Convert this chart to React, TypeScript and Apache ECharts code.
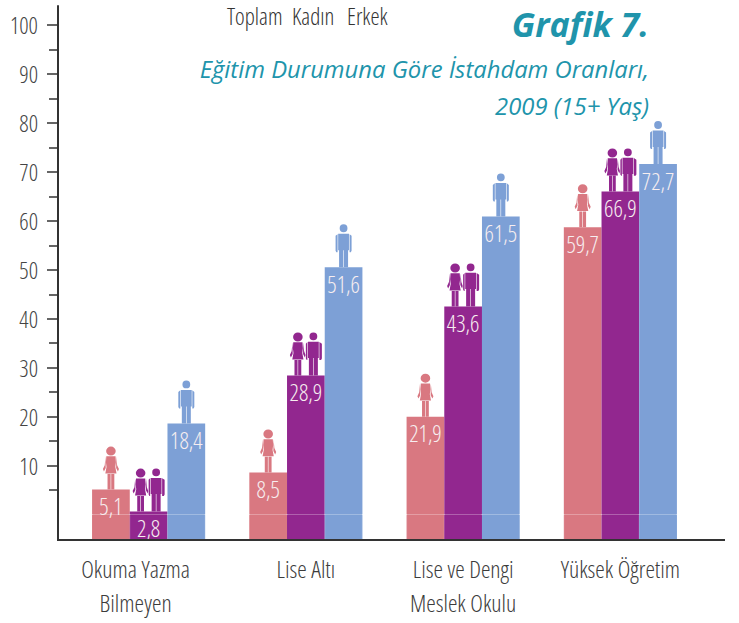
import React, { useEffect, useRef } from "react";
import * as echarts from "echarts";

const categories = ["Okuma Yazma\nBilmeyen", "Lise Altı", "Lise ve Dengi\nMeslek Okulu", "Yüksek Öğretim"];
// Bar heights as read against the axis
const kadinHeights = [5.1, 8.6, 20, 58.7];
const toplamHeights = [0.6, 28.4, 42.5, 66];
const erkekHeights = [18.6, 50.5, 60.9, 71.6];
// Values as printed on the bars
const kadinLabels = ["5,1", "8,5", "21,9", "59,7"];
const toplamLabels = ["2,8", "28,9", "43,6", "66,9"];
const erkekLabels = ["18,4", "51,6", "61,5", "72,7"];
const majorTicks = [10, 20, 30, 40, 50, 60, 70, 80, 90, 100];
const minorTicks = [5, 15, 25, 35, 45, 55, 65, 75, 85, 95];

const PINK = "#d97881";
const PURPLE = "#92278f";
const BLUE = "#7da0d6";
const TEAL = "#2094ab";
const NARROW = { fontFamily: "'Open Sans'", fontWeight: 300 };
const AXIS_MIN = -5.2;
const AXIS_MAX = 103.9;
const BAR_WIDTH = 37.7;

const WOMAN =
  "path://M3.2 4.6A4.8 4.6 0 1 1 12.8 4.6A4.8 4.6 0 1 1 3.2 4.6Z" +
  "M3.4 10H12.6L13 16L12.4 21L13.6 27.5H2.4L3.6 21L3 16Z" +
  "M2.6 10L1.8 19L0 23L1 25.5L2.8 22Z" +
  "M13.4 10L14.2 19L16 23L15 25.5L13.2 22Z" +
  "M4.6 28H7.7V44H4.6Z" +
  "M8.3 28H11.4V44H8.3Z";
const MAN =
  "path://M4.1 3.9A3.9 3.9 0 1 1 11.9 3.9A3.9 3.9 0 1 1 4.1 3.9Z" +
  "M2.6 9.5H13.4V26H12.5V43H8.3V26H7.7V43H3.5V26H2.6Z" +
  "M0 11.5L2 9.8V28H0.8L0 26.5Z" +
  "M16 11.5L14 9.8V28H15.2L16 26.5Z";
const COUPLE =
  "path://M3.2 4.6A4.8 4.6 0 1 1 12.8 4.6A4.8 4.6 0 1 1 3.2 4.6Z" +
  "M3.4 10H12.6L13 16L12.4 21L13.6 27.5H2.4L3.6 21L3 16Z" +
  "M2.6 10L1.8 19L0 23L1 25.5L2.8 22Z" +
  "M13.4 10L14.2 19L15.6 23L15 25.5L13.2 22Z" +
  "M4.6 28H7.7V44H4.6Z" +
  "M8.3 28H11.4V44H8.3Z" +
  "M19.6 3.9A3.9 3.9 0 1 1 27.4 3.9A3.9 3.9 0 1 1 19.6 3.9Z" +
  "M18.1 9.5H28.9V26H28V44H23.8V26H23.2V44H19V26H18.1Z" +
  "M16 11.5L17.5 9.8V28H16.8L16 26.5Z" +
  "M32 11.5L29.5 9.8V28H31.2L32 26.5Z";

function bars(name: string, stack: string, color: string, heights: number[], labels: string[]) {
  return {
    name,
    type: "bar",
    stack,
    barWidth: BAR_WIDTH,
    barGap: 0,
    itemStyle: { color },
    data: heights,
    z: 3,
    label: {
      show: true,
      position: "insideTop",
      distance: 5,
      color: "#f7eef0",
      ...NARROW,
      fontSize: 23,
      formatter: (p: any) => labels[p.dataIndex],
    },
  };
}

// The bars stand on the axis floor, which lies below the value 0.
function footing(stack: string, color: string) {
  return {
    type: "bar",
    stack,
    barWidth: BAR_WIDTH,
    barGap: 0,
    z: 2,
    silent: true,
    itemStyle: { color, borderColor: color, borderWidth: 1 },
    data: categories.map(() => AXIS_MIN),
  };
}

function people(symbol: string, color: string, heights: number[], offset: number, w: number) {
  return {
    type: "scatter",
    symbol,
    symbolSize: [w, 43],
    symbolOffset: [offset, -21.5],
    itemStyle: { color, opacity: 1 },
    data: heights,
    silent: true,
  };
}

function legendItem(name: string, left: number) {
  return {
    data: [name],
    icon: "none",
    itemWidth: 0,
    itemHeight: 10,
    padding: 0,
    left,
    top: 4,
    selectedMode: false,
    textStyle: { color: "#333", ...NARROW, fontSize: 23 },
  };
}

export default function App() {
  const ref = useRef<HTMLDivElement>(null);
  useEffect(() => {
    document.body.style.margin = "0";
    const chart = echarts.init(ref.current!, null, { renderer: "svg" });
    const yBase = {
      type: "value",
      min: AXIS_MIN,
      max: AXIS_MAX,
      offset: 12,
      splitLine: { show: false },
    };
    const titleFont = { color: TEAL, fontFamily: "'Open Sans'", fontStyle: "italic", fontWeight: 500, fontSize: 23.8 };
    chart.setOption({
      animation: false,
      backgroundColor: "#fff",
      title: [
        {
          text: "Grafik 7.",
          right: 85,
          top: 2,
          textStyle: { ...titleFont, fontWeight: "bold", fontSize: 34 },
        },
        { text: "Eğitim Durumuna Göre İstahdam Oranları,", right: 85, top: 52, textStyle: titleFont },
        { text: "2009 (15+ Yaş)", right: 85, top: 89, textStyle: titleFont },
      ],
      legend: [legendItem("Toplam", 222), legendItem("Kadın", 287), legendItem("Erkek", 342)],
      grid: { left: 70, width: 629, top: 6, bottom: 83, containLabel: false, outerBoundsMode: "none" },
      xAxis: {
        type: "category",
        data: categories.map((value, i) =>
          i === 0 ? { value, textStyle: { padding: [0, 26, 0, 0] } } : value
        ),
        axisTick: { show: false },
        axisLine: { show: false },
        axisLabel: {
          color: "#3c3c3c",
          ...NARROW,
          fontSize: 24,
          lineHeight: 34,
          margin: 11,
          interval: 0,
        },
      },
      yAxis: [
        {
          ...yBase,
          axisLine: { show: true, onZero: false, lineStyle: { color: "#333", width: 2 } },
          axisTick: { show: true, length: 11, customValues: majorTicks, lineStyle: { color: "#333", width: 1.5 } },
          axisLabel: {
            customValues: majorTicks,
            color: "#444",
            ...NARROW,
            fontSize: 23,
            margin: 20,
          },
        },
        {
          ...yBase,
          position: "left",
          axisLine: { show: false },
          axisTick: { show: true, length: 9, customValues: minorTicks, lineStyle: { color: "#333", width: 1.5 } },
          axisLabel: { show: false },
        },
      ],
      graphic: [
        {
          type: "line",
          shape: { x1: 57, y1: 540, x2: 725, y2: 540 },
          style: { stroke: "#333", lineWidth: 2 },
          z: 10,
        },
      ],
      series: [
        footing("k", PINK),
        bars("Kadın", "k", PINK, kadinHeights, kadinLabels),
        footing("t", PURPLE),
        bars("Toplam", "t", PURPLE, toplamHeights, toplamLabels),
        footing("e", BLUE),
        bars("Erkek", "e", BLUE, erkekHeights, erkekLabels),
        people(WOMAN, PINK, kadinHeights, -BAR_WIDTH, 16),
        people(COUPLE, PURPLE, toplamHeights, 0, 32),
        people(MAN, BLUE, erkekHeights, BAR_WIDTH, 16),
      ],
    });
    // Condensed face: the chart's font settings cannot carry a font stretch.
    ref.current!.querySelectorAll("text").forEach((t) => {
      if (!(t.getAttribute("style") || "").includes("italic")) t.style.fontStretch = "condensed";
    });
    return () => chart.dispose();
  }, []);
  return <div ref={ref} style={{ width: 739, height: 623 }} />;
}
